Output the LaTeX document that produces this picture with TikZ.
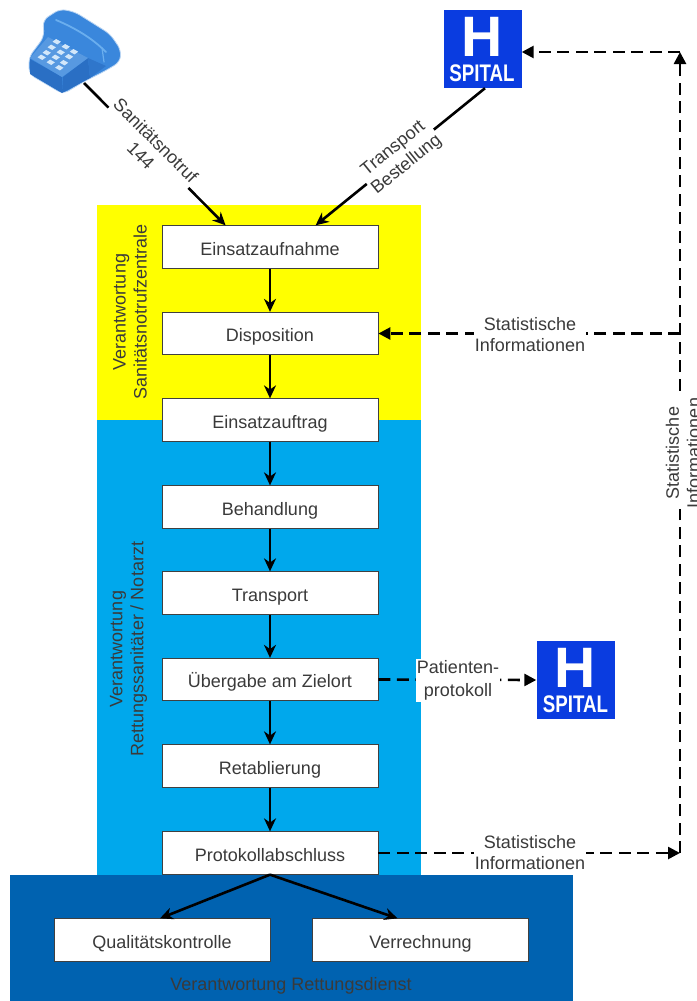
\documentclass[tikz,border=0pt]{standalone}
\usepackage{fontspec}
\setmainfont{Liberation Sans}
\usetikzlibrary{arrows.meta,calc}
\definecolor{txt}{HTML}{3A3A3A}
\definecolor{gelb}{HTML}{FFFF00}
\definecolor{hell}{HTML}{00A8EC}
\definecolor{dunkel}{HTML}{0062B0}
\definecolor{spitalblau}{HTML}{0A3CE0}
\definecolor{telA}{HTML}{3A87DC}
\definecolor{telB}{HTML}{2A6FC4}
\definecolor{telC}{HTML}{6AAEEE}
\tikzset{
  stepbox/.style={draw=black!75,line width=.8pt,fill=white,minimum width=216pt,minimum height=42.5pt,inner sep=0pt,text=txt,font=\fontsize{18}{21}\selectfont,text height=20pt,text depth=3.5pt},
  flow/.style={draw=black,line width=2.6pt,-{Stealth[length=13pt,width=12pt]}},
  dashflow/.style={draw=black,line width=2.6pt,dash pattern=on 12pt off 6.5pt,-{Stealth[length=12pt,width=12pt,inset=0pt]}},
  lab/.style={text=txt,align=center,font=\fontsize{18}{21}\selectfont,inner sep=1pt},
  wlab/.style={lab,fill=white},
  spitalbox/.style={fill=spitalblau,minimum width=78pt,minimum height=78pt,inner sep=0pt},
  spitalH/.style={text=white,inner sep=0pt,font=\fontsize{57}{57}\bfseries\selectfont},
  spitalT/.style={text=white,inner sep=0pt,font=\fontsize{24}{24}\bfseries\selectfont},
}
\begin{document}
\begin{tikzpicture}[x=1pt,y=-1pt]
\useasboundingbox (0,0) rectangle (696,1001);
\clip (0,0) rectangle (696,1001);
% zones
\fill[gelb] (97,205) rectangle (421,420);
\fill[hell] (97,420) rectangle (421,875);
\fill[dunkel] (10,875) rectangle (573,1001);
% process boxes
\node[stepbox] (a) at (270,247) {Einsatzaufnahme};
\node[stepbox] (b) at (270,333.5) {Disposition};
\node[stepbox] (c) at (270,420) {Einsatzauftrag};
\node[stepbox] (d) at (270,507) {Behandlung};
\node[stepbox] (e) at (270,593) {Transport};
\node[stepbox] (f) at (270,679.5) {Übergabe am Zielort};
\node[stepbox] (g) at (270,766) {Retablierung};
\node[stepbox] (h) at (270,853) {Protokollabschluss};
\node[stepbox] (q) at (162,940) {Qualitätskontrolle};
\node[stepbox] (v) at (420.5,940) {Verrechnung};
% zone labels
\node[lab,rotate=90] (z1) at (130,312) {Verantwortung\\Sanitätsnotrufzentrale};
\node[lab,rotate=90] (z2) at (128.5,649) {Verantwortung\\Rettungssanitäter / Notarzt};
\node[lab] (z3) at (291,985.5) {Verantwortung Rettungsdienst};
% phone
\node[inner sep=0pt,minimum width=92pt,minimum height=84pt] (tel) at (75,52) {};
\coordinate (telout) at (84,83);
\filldraw[fill=telA,draw=white!65!telA,line width=.8pt,line join=round,rounded corners=6pt]
  (29,57) -- (44,37) -- (43,20) -- (60,9) -- (75,12) -- (110,34) -- (121,50) -- (120,62) -- (105,71) -- (85,81) -- (63,94) -- (29,74) -- cycle;
\fill[telB] (62,93) -- (63,77) -- (88,58) -- (90,78) -- cycle;
\fill[telB] (30,59) -- (62,77) -- (62,93) -- (30,74) -- cycle;
\fill[telA!85!white] (30,58) -- (48,37) -- (88,58) -- (62,77) -- cycle;
\fill[telB!70!telA] (88,58) -- (106,66) -- (90,78) -- cycle;
\draw[telC,line width=1.8pt,line cap=round] (56,20) .. controls (75,28) and (92,38) .. (106,52);
\draw[telC,line width=1.2pt,line cap=round] (102,48) -- (104,62);
\foreach \p in {(56.7,41.7),(65.7,46.7),(74,51.7),(51.7,47.3),(60.7,52.3),(69,56.7),(46.7,52.7),(55.7,57.3),(64,62.7),(41.7,57.3),(50.7,62.3),(59.3,67.7)}
  \fill[white!70!telC] \p ++(-4.2,0) -- ++(3.6,-2.7) -- ++(4.8,2.7) -- ++(-3.6,2.7) -- cycle;
% hospitals
\node[spitalbox] (s1) at (482.5,49) {};
\node[spitalH] (s1h) at (482.5,36.5) {H};
\node[spitalT] (s1t) at (482,73) {\scalebox{.78}[1]{SPITAL}};
\node[spitalbox] (s2) at (575.5,680) {};
\node[spitalH] (s2h) at (575.5,667.5) {H};
\node[spitalT] (s2t) at (575.5,704) {\scalebox{.78}[1]{SPITAL}};
% solid flow
\draw[flow] (a) -- (b);
\draw[flow] (b) -- (c);
\draw[flow] (c) -- (d);
\draw[flow] (d) -- (e);
\draw[flow] (e) -- (f);
\draw[flow] (f) -- (g);
\draw[flow] (g) -- (h);
\draw[flow] (h.south) -- ([xshift=-2pt]q.north);
\draw[flow] (h.south) -- ([xshift=-23pt]v.north);
% incoming
\draw[flow] (telout) -- ([xshift=64pt]a.north west) node[pos=.455,sloped,wlab] (l1) {Sanitätsnotruf\\144};
\draw[flow] ([xshift=2.5pt]s1.south) -- ([xshift=154pt]a.north west) node[pos=.5,wlab,rotate=39] (l2) {Transport\\Bestellung};
% dashed
\coordinate (ecke) at (680,52);
\coordinate (unten) at (680,853);
\coordinate (mitte) at (680,333.5);
\draw[dashflow] (unten) -- (ecke);
\draw[dashflow] (ecke) -- (ecke -| s1.east);
\draw[dashflow] (mitte) -- (b.east);
\draw[dashflow] (h.east) -- (unten);
\draw[dashflow] (f.east) -- (s2.west);
\node[wlab] (l3) at (530,335) {Statistische\\Informationen};
\node[wlab] (l4) at (530,853) {Statistische\\Informationen};
\node[wlab,font=\fontsize{18}{23}\selectfont,inner ysep=2pt] (l5) at (458,680.5) {Patienten-\\protokoll};
\node[wlab,rotate=90] (l6) at (683,453) {Statistische\\Informationen};
\end{tikzpicture}
\end{document}
